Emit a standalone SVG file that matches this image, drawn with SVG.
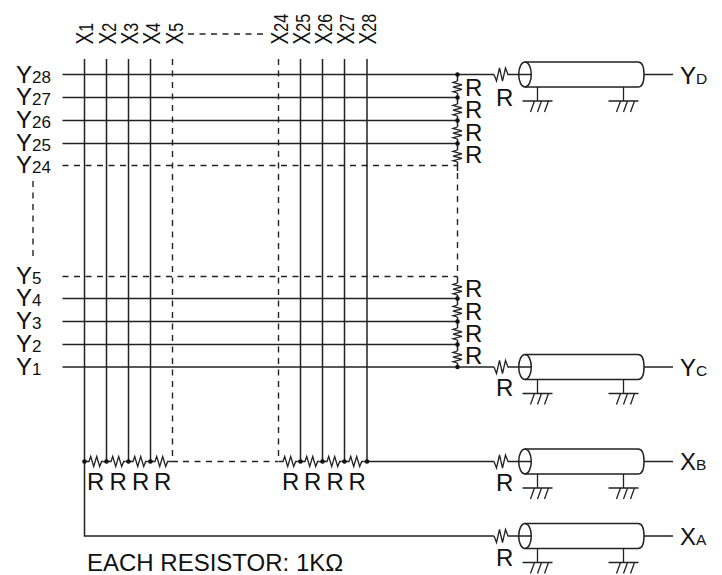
<svg xmlns="http://www.w3.org/2000/svg" width="722" height="575" viewBox="0 0 722 575">
<style>
text{font-family:"Liberation Sans",Arial,sans-serif;font-size:24px;fill:#111}
.s{font-size:17px}
.r{font-size:20px}
.l{font-size:15.5px}
.w{fill:none;stroke:#222;stroke-width:1.5}
.d{fill:none;stroke:#222;stroke-width:1.4;stroke-dasharray:6 5.5}
.t{fill:none;stroke:#222;stroke-width:1.3}
</style>
<defs>
<circle id="dot" r="2.3" fill="#111"/>
<path id="rh" class="t" d="M0 0h2l1.700-5 3 10 3-10 3 10 2-5h2"/>
<path id="rv" class="t" d="M0 0l-4.500 1.500 9 2.300-9 2.300 9 2.300-9 2.300 4.500 1.300"/>
<g id="gnd"><path class="t" d="M0 0v14M-15 14h30M-3 14l-4 11M4 14l-4 11M11 14l-4 11"/></g>
<g id="cable">
<path class="t" d="M-31 0l2.500 6.500 3-13 3 13 3-13 2.500 6.500h23"/>
<ellipse class="w" cx="0" cy="0" rx="6.300" ry="12.500"/>
<path class="w" d="M0-12.500H113q6 0 6 12.500t-6 12.500H0M119 0h29"/>
<use href="#gnd" x="12.500" y="12.500"/>
<use href="#gnd" x="98.500" y="12.500"/>
</g>
</defs>
<g id="connectors">
<path class="w" d="M62.500 74.500H494M62.500 97.500H457.500M62.500 120.500H457.500M62.500 143.500H457.500M62.500 298.500H457.500M62.500 321.500H457.500M62.500 344.500H457.500M62.500 367H494"/>
<path class="d" d="M62.500 165.500H457.500M62.500 276.500H457.500M188 34H264M183 461.500H278"/>
<path class="d" d="M33 181V258"/>
<path class="w" d="M84.500 59V536H494M106.500 59V461.500M128.500 59V461.500M150.500 59V461.500M300.500 59V461.500M322.500 59V461.500M344.500 59V461.500M367 59V461.500"/>
<path class="d" d="M172.500 59V461M278.500 59V461M457.500 173V277"/>
<path class="w" d="M84.500 461.500H87M103.700 461.500H109M125.700 461.500H131M147.700 461.500H153M169.700 461.500H178M278.500 461.500H281M297.700 461.500H303M319.700 461.500H325M341.700 461.500H347M363.700 461.500H494"/>
<path class="w" d="M457.500 74.500V81M457.500 93V104M457.500 116V127M457.500 139V150M457.500 162V171M457.500 277V283M457.500 295V305M457.500 317V328M457.500 340V351M457.500 363V367"/>
<use href="#rv" x="457.500" y="81"/><use href="#rv" x="457.500" y="104"/><use href="#rv" x="457.500" y="127"/><use href="#rv" x="457.500" y="150"/>
<use href="#rv" x="457.500" y="283"/><use href="#rv" x="457.500" y="305"/><use href="#rv" x="457.500" y="328"/><use href="#rv" x="457.500" y="351"/>
<g id="hres">
<use href="#rh" x="87" y="461.500"/><use href="#rh" x="109" y="461.500"/><use href="#rh" x="131" y="461.500"/><use href="#rh" x="153" y="461.500"/>
<use href="#rh" x="281" y="461.500"/><use href="#rh" x="303" y="461.500"/><use href="#rh" x="325" y="461.500"/><use href="#rh" x="347" y="461.500"/>
</g>
<g id="dots">
<use href="#dot" x="457.500" y="74.500"/><use href="#dot" x="457.500" y="97.500"/><use href="#dot" x="457.500" y="120.500"/><use href="#dot" x="457.500" y="143.500"/>
<use href="#dot" x="457.500" y="298.500"/><use href="#dot" x="457.500" y="321.500"/><use href="#dot" x="457.500" y="344.500"/><use href="#dot" x="457.500" y="367"/>
<use href="#dot" x="84.500" y="461.500"/><use href="#dot" x="106.500" y="461.500"/><use href="#dot" x="128.500" y="461.500"/><use href="#dot" x="150.500" y="461.500"/>
<use href="#dot" x="300.500" y="461.500"/><use href="#dot" x="322.500" y="461.500"/><use href="#dot" x="344.500" y="461.500"/><use href="#dot" x="367" y="461.500"/>
</g>
</g>
<g id="cable-d"><use href="#cable" x="525" y="74.500"/><text x="680" y="83.500">Y<tspan class="l">D</tspan></text><text x="496" y="105.500">R</text></g>
<g id="cable-c"><use href="#cable" x="525" y="367"/><text x="680" y="375.500">Y<tspan class="l">C</tspan></text><text x="496" y="396">R</text></g>
<g id="cable-b"><use href="#cable" x="525" y="461.500"/><text x="680" y="470">X<tspan class="l">B</tspan></text><text x="496" y="491">R</text></g>
<g id="cable-a"><use href="#cable" x="525" y="536"/><text x="680" y="544.500">X<tspan class="l">A</tspan></text><text x="496" y="565.500">R</text></g>
<g id="x-labels">
<text transform="translate(93,44.500) rotate(-90) scale(.8,1)">X<tspan class="r">1</tspan></text>
<text transform="translate(115.500,44.500) rotate(-90) scale(.8,1)">X<tspan class="r">2</tspan></text>
<text transform="translate(138,44.500) rotate(-90) scale(.8,1)">X<tspan class="r">3</tspan></text>
<text transform="translate(160,44.500) rotate(-90) scale(.8,1)">X<tspan class="r">4</tspan></text>
<text transform="translate(182.500,44.500) rotate(-90) scale(.8,1)">X<tspan class="r">5</tspan></text>
<text transform="translate(288,44.500) rotate(-90) scale(.8,1)">X<tspan class="r">24</tspan></text>
<text transform="translate(310,44.500) rotate(-90) scale(.8,1)">X<tspan class="r">25</tspan></text>
<text transform="translate(332,44.500) rotate(-90) scale(.8,1)">X<tspan class="r">26</tspan></text>
<text transform="translate(354,44.500) rotate(-90) scale(.8,1)">X<tspan class="r">27</tspan></text>
<text transform="translate(376,44.500) rotate(-90) scale(.8,1)">X<tspan class="r">28</tspan></text>
</g>
<g id="y-labels">
<text x="16" y="82.500">Y<tspan class="s">28</tspan></text>
<text x="16" y="105">Y<tspan class="s">27</tspan></text>
<text x="16" y="128">Y<tspan class="s">26</tspan></text>
<text x="16" y="150.500">Y<tspan class="s">25</tspan></text>
<text x="16" y="172.500">Y<tspan class="s">24</tspan></text>
<text x="16" y="283.500">Y<tspan class="s">5</tspan></text>
<text x="16" y="306">Y<tspan class="s">4</tspan></text>
<text x="16" y="329">Y<tspan class="s">3</tspan></text>
<text x="16" y="352">Y<tspan class="s">2</tspan></text>
<text x="16" y="374.500">Y<tspan class="s">1</tspan></text>
</g>
<g id="r-labels">
<text x="465" y="95.500">R</text><text x="465" y="118">R</text><text x="465" y="140.500">R</text><text x="465" y="163">R</text>
<text x="465" y="297">R</text><text x="465" y="319.500">R</text><text x="465" y="342">R</text><text x="465" y="364">R</text>
<text x="87" y="489.500">R</text><text x="109.500" y="489.500">R</text><text x="132" y="489.500">R</text><text x="154" y="489.500">R</text>
<text x="282" y="489.500">R</text><text x="304" y="489.500">R</text><text x="326.500" y="489.500">R</text><text x="348.500" y="489.500">R</text>
</g>
<text id="note" x="87" y="571">EACH RESISTOR: 1KΩ</text>
</svg>
